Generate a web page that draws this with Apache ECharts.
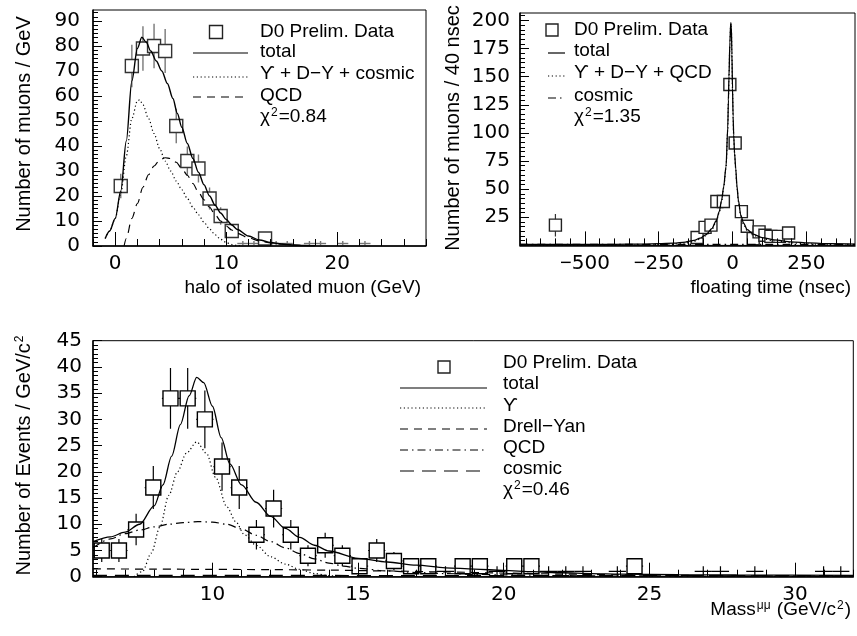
<!DOCTYPE html>
<html><head><meta charset="utf-8">
<script src="https://cdn.jsdelivr.net/npm/echarts@6/dist/echarts.min.js"></script>
<style>html,body{margin:0;padding:0;background:#fff}#c{width:857px;height:636px}</style>
</head><body><div id="c"></div>
<script>
// ===== Top-left: halo of isolated muon =====
const tlSqX  = [0.5, 1.5, 2.5, 3.5, 4.5, 5.5, 6.5, 7.5, 8.5, 9.5, 10.5, 13.5];
const tlSqY  = [24, 72, 79, 80, 78, 48, 34, 31, 19, 12, 6, 3];
const tlSqErr = [4.9, 8.5, 8.9, 8.9, 8.8, 6.9, 5.8, 5.6, 4.4, 3.5, 2.4, 1.7];
const tlCrX  = [11.5, 12.5, 14.5, 15.5, 17.5, 18.5, 20.5, 22.5];
const tlCrY  = [1, 1, 1, 1, 1, 1, 1, 1];
const tlTotX = [-0.9,-0.5,0,0.5,1,1.5,2,2.4,2.8,3.2,3.7,4.2,4.7,5.2,5.6,6,6.5,7,7.5,8,8.5,9,9.5,10,10.5,11,12,13,14,15,16,17,18];
const tlTotY = [3,6,11,22,42,66,79,83.5,81.5,78,74,70,65,59,53,47.5,41,35,29.5,24.5,20,16.3,13.2,10.6,8.4,6.6,4,2.4,1.4,0.8,0.4,0.2,0.1];
const tlUpsX = [-0.9,-0.5,0,0.5,1,1.5,2,2.2,2.5,3,3.5,4,4.5,5,5.5,6,6.5,7,7.5,8,8.5,9,9.5,10,10.5,11,11.5];
const tlUpsY = [3,6,11,21,36,51,58,58.5,56.5,51,45,39,34,30,26,22.5,19,15.5,12.5,9.5,6.8,4.5,2.7,1.4,0.6,0.2,0];
const tlQcdX = [0.8,1,1.5,2,2.5,3,3.5,4,4.5,5,5.5,6,6.5,7,7.5,8,8.5,9,9.5,10,10.5,11,12,13,14,15,16,17];
const tlQcdY = [0,3,11,17,23.5,28.5,32,34.4,35.3,35,33.5,31,28.3,25,21.5,18.5,15.5,12.5,10,8,6.4,5.1,3.3,2,1.2,0.7,0.35,0.15];
const tlXLabels = [0, 10, 20];
const tlYLabels = [0, 10, 20, 30, 40, 50, 60, 70, 80, 90];

// ===== Top-right: floating time =====
const trSqX  = [-600, -120, -93, -73, -53, -31, -9, 9, 30, 50, 70, 90, 110, 130, 155, 190];
const trSqY  = [18, 7, 16, 18, 39, 39, 143, 91, 30, 17, 6, 12, 9, 8, 8, 11];
const trSqErr = [10, 0, 0, 0, 0, 0, 0, 0, 0, 0, 0, 0, 0, 0, 0, 0];
const trTotX = [-720,-400,-300,-250,-200,-160,-130,-110,-90,-70,-55,-45,-37,-30,-22,-16,-14,-12,-9,-6,-4,-2,0,2,4,7,11,15,20,28,37,50,70,100,140,200,260,330,415];
const trTotY = [0.9,1.0,1.2,1.5,2.1,3,4.5,6.5,9.5,15,22,30,40,52,70,105,129,150,180,198,195,170,140,115,98,82,68,53,40,27,20,14,10,7,5,3.2,2.2,1.5,1.1];
const trSigY = [0,0.1,0.3,0.6,1.2,2.1,3.6,5.6,8.6,14.1,21.1,29.1,39.1,51.1,69.1,104,128,149,179,197,194,169,139,114,97,81,67,52,39,26,19,13,9.1,6.1,4.1,2.3,1.3,0.6,0.2];
const trCosX = [-720, 415];
const trCosY = [0.9, 0.9];
const trXLabels = [-500, -250, 0, 250];
const trYLabels = [25, 50, 75, 100, 125, 150, 175, 200];

// ===== Bottom: di-muon mass =====
const bSqX  = [6.2,6.79,7.38,7.97,8.56,9.15,9.74,10.33,10.92,11.51,12.1,12.69,13.28,13.87,14.46,15.05,15.64,16.23,16.82,17.41,18.59,19.18,20.36,20.95,24.49];
const bSqY  = [5,5,9,17,34,34,30,21,17,8,13,8,4,6,4,2,5,3,2,2,2,2,2,2,2];
const bSqErr = [2.2,2.2,3,4.1,5.8,5.8,5.5,4.6,4.1,2.8,3.6,2.8,2,2.4,2,1.4,2.2,1.7,1.4,1.4,1.4,1.4,1.4,1.4,1.4];
const bCrX  = [18.0,19.77,21.54,22.13,22.72,23.9,26.85,27.44,28.62,30.98,31.57];
const bCrY  = [1,1,1,1,1,1,1,1,1,1,1];
const bTotX = [5.9,6.5,7,7.5,8,8.3,8.6,8.9,9.2,9.46,9.7,10,10.3,10.6,11,11.5,12,12.5,13,13.5,14,15,16,17,18,19,20,21,22,23,24,26,28,32];
const bTotY = [6.7,7.6,8.5,10,13.5,17.5,23,29,34.5,38,37,32.5,26.5,21.5,17.5,14.2,11.5,9.2,7.5,6,4.9,3.5,2.8,2.2,1.7,1.45,1.2,0.95,0.75,0.6,0.5,0.4,0.32,0.25];
const bUpsX = [7.3,7.6,7.9,8.2,8.5,8.8,9.1,9.46,9.8,10.1,10.5,10.8,11.1,11.5,12,12.5,13,13.5,14,14.5];
const bUpsY = [0,1,4.5,9.5,15.5,20,23.5,25.7,23.5,19,13.3,10.5,8,6,3.8,2.4,1.4,0.6,0.2,0];
const bDyX  = [5.9,8,10,12,14,16,18,20,22,24,26,28,32];
const bDyY  = [1.5,1.45,1.4,1.35,1.25,1.1,0.9,0.7,0.5,0.35,0.25,0.15,0.08];
const bQcdX = [5.9,6.5,7,7.5,8,8.5,9,9.5,10,10.5,11,11.5,12,12.5,13,13.5,14,14.5,15,16,17,18,19,20,22,24,28,32];
const bQcdY = [5.5,7.2,8.2,8.9,9.5,10,10.3,10.5,10.4,10,9.1,7.9,6.7,5.5,4.4,3.4,2.6,2,1.6,1.1,0.8,0.6,0.45,0.35,0.2,0.1,0.05,0.02];
const bCosX = [5.9, 32];
const bCosY = [0.25, 0.2];
const bXLabels = [10, 15, 20, 25, 30];
const bYLabels = [0, 5, 10, 15, 20, 25, 30, 35, 40, 45];

// ===== helpers =====
const NUM = 'DejaVu Sans', TXT = 'Liberation Sans';
const zip = (xs, ys) => xs.map((x, i) => [x, ys[i]]);
function steps(a, b, s) { const r = []; for (let v = a; v <= b + 1e-9; v += s) r.push(+v.toFixed(4)); return r; }
const negFmt = v => v < 0 ? '{m|\u2212}' + (-v) : String(v);

function axes(dim, gi, min, max, labels, majors, minors, majLen, minLen, margin) {
  const base = { type: 'value', gridIndex: gi, min, max, splitLine: { show: false }, z: 5 };
  const major = Object.assign({}, base, {
    axisLine: { show: true, onZero: false, lineStyle: { color: '#000', width: 1.5 } },
    axisTick: { show: true, inside: true, length: majLen, customValues: majors, lineStyle: { color: '#000', width: 1 } },
    axisLabel: { show: true, customValues: labels, margin, color: '#000', fontSize: 20, fontFamily: NUM,
      formatter: negFmt, rich: { m: { fontFamily: TXT, fontSize: 20, color: '#000' } } }
  });
  const minor = Object.assign({}, base, {
    axisLine: { show: false, onZero: false },
    axisTick: { show: true, inside: true, length: minLen, customValues: minors, lineStyle: { color: '#000', width: 1 } },
    axisLabel: { show: false }
  });
  if (dim === 'x') { major.position = minor.position = 'bottom'; }
  else { major.position = minor.position = 'left'; }
  return [major, minor];
}

function errSeries(xi, yi, pts, color, lw) {
  return {
    type: 'custom', xAxisIndex: xi, yAxisIndex: yi, clip: true, silent: true, z: 2,
    data: pts,
    renderItem: (params, api) => {
      const x = api.value(0), y = api.value(1), dx = api.value(2), dy = api.value(3);
      const ch = [];
      if (dy > 0) {
        const a = api.coord([x, y + dy]), b = api.coord([x, y - dy]);
        ch.push({ type: 'line', shape: { x1: a[0], y1: a[1], x2: b[0], y2: b[1] }, style: { stroke: color, lineWidth: lw } });
      }
      if (dx > 0) {
        const a = api.coord([x - dx, y]), b = api.coord([x + dx, y]);
        ch.push({ type: 'line', shape: { x1: a[0], y1: a[1], x2: b[0], y2: b[1] }, style: { stroke: color, lineWidth: lw } });
      }
      return { type: 'group', children: ch };
    }
  };
}
function sqSeries(xi, yi, xs, ys, size, color) {
  return { type: 'scatter', xAxisIndex: xi, yAxisIndex: yi, symbol: 'rect', symbolSize: size, silent: true, z: 3,
    itemStyle: { color: '#fff', borderColor: color, borderWidth: 1.4, opacity: 1 }, data: zip(xs, ys) };
}
function lineSeries(xi, yi, xs, ys, type, w) {
  return { type: 'line', xAxisIndex: xi, yAxisIndex: yi, showSymbol: false, symbol: 'none', smooth: 0.3, smoothMonotone: 'x',
    clip: true, silent: true, z: 4, lineStyle: { color: '#000', width: w || 1.2, type: type }, data: zip(xs, ys) };
}

const tlErr = tlSqX.map((x, i) => [x, tlSqY[i], 0.5, tlSqErr[i]]).concat(tlCrX.map((x, i) => [x, tlCrY[i], 0.5, 1]));
const trErr = trSqX.map((x, i) => [x, trSqY[i], 0, trSqErr[i]]);
const bErr  = bSqX.map((x, i) => [x, bSqY[i], 0.295, bSqErr[i]]).concat(bCrX.map((x, i) => [x, bCrY[i], 0.295, 1]));

const tlX = axes('x', 0, -2, 28, tlXLabels, tlXLabels, steps(-2, 28, 2), 14, 7, 8);
const trX = axes('x', 1, -720, 415, trXLabels, trXLabels, steps(-700, 400, 50), 14, 7, 8);
const bX  = axes('x', 2, 5.9, 32, bXLabels, bXLabels, steps(6, 32, 1), 14, 7, 8);
const tlY = axes('y', 0, 0, 94.4, tlYLabels, tlYLabels, steps(0, 94, 10 / 6), 9, 5, 13);
const trY = axes('y', 1, 0, 206.6, trYLabels, [0].concat(trYLabels), steps(0, 206, 25 / 6), 9, 5, 10);
const bY  = axes('y', 2, 0, 45, bYLabels, bYLabels, steps(0, 45, 5 / 6), 9, 5, 11);

// legend / titles (graphic)
const T = (x, y, text, align, size, extra) => Object.assign({ type: 'text', x, y, z: 10, silent: true,
  style: { text, fill: '#000', font: (size || 19) + 'px "' + TXT + '"', textAlign: align || 'left', textVerticalAlign: 'middle',
    rich: { s: { fontSize: 12, fontFamily: TXT, fill: '#000', verticalAlign: 'top', padding: [0, 1, 8, 1] },
            n: { fontSize: size || 19, fontFamily: TXT, fill: '#000' } } } }, extra || {});
const L = (x1, y1, x2, y2, dash, w) => ({ type: 'line', z: 10, silent: true, shape: { x1, y1, x2, y2 },
  style: { stroke: '#000', lineWidth: w || 1.2, lineDash: dash || null } });
const S = (cx, cy, s) => ({ type: 'rect', z: 10, silent: true, shape: { x: cx - s / 2, y: cy - s / 2, width: s, height: s },
  style: { fill: '#fff', stroke: '#222', lineWidth: 1.4 } });
const DOT = [1.2, 2.6], DASH = [8, 6], DASHDOT = [8, 4, 1.5, 4], LONG = [14, 8];

const graphic = [
  // top-left legend
  S(216, 32, 13), T(260, 32, 'D0 Prelim. Data'),
  L(193, 53, 248, 53), T(260, 52, 'total'),
  L(193, 77, 248, 77, DOT), T(260, 74, '\u03d2 + D\u2212Y + cosmic'),
  L(193, 97, 248, 97, DASH), T(260, 96, 'QCD'),
  T(260, 117, '\u03c7{s|2}=0.84'),
  // top-right legend
  S(552, 30, 12), T(574, 30, 'D0 Prelim. Data'),
  L(548, 53, 565, 53), T(574, 51, 'total'),
  L(548, 76, 565, 76, DOT), T(574, 73, '\u03d2 + D\u2212Y + QCD'),
  L(548, 98, 565, 98, DASHDOT), T(574, 96, 'cosmic'),
  T(574, 117, '\u03c7{s|2}=1.35'),
  // bottom legend
  S(444, 367, 12), T(503, 363, 'D0 Prelim. Data'),
  L(400, 388, 487, 388), T(503, 384, 'total'),
  L(400, 408, 487, 408, DOT), T(503, 406, '\u03d2'),
  L(400, 429, 487, 429, DASH), T(503, 427, 'Drell\u2212Yan'),
  L(400, 450, 487, 450, DASHDOT), T(503, 448, 'QCD'),
  L(400, 471, 487, 471, LONG), T(503, 469, 'cosmic'),
  T(503, 490, '\u03c7{s|2}=0.46'),
  // axis titles
  T(24, 124, 'Number of muons / GeV', 'center', 20, { rotation: Math.PI / 2 }),
  T(421, 288, 'halo of isolated muon (GeV)', 'right', 19),
  T(453, 128, 'Number of muons / 40 nsec', 'center', 20, { rotation: Math.PI / 2 }),
  T(851, 288, 'floating time (nsec)', 'right', 19),
  T(24, 455, 'Number of Events / GeV/c{s|2}', 'center', 20, { rotation: Math.PI / 2 }),
  T(851, 610, 'Mass{s|\u03bc\u03bc} (GeV/c{s|2})', 'right', 19)
];

const chart = echarts.init(document.getElementById('c'), null, { renderer: 'canvas' });
chart.setOption({
  animation: false,
  backgroundColor: '#fff',
  grid: [
    { left: 93, top: 10, width: 333, height: 236, show: true, borderColor: '#000', borderWidth: 1, backgroundColor: 'transparent' },
    { left: 520, top: 13, width: 335, height: 232.4, show: true, borderColor: '#000', borderWidth: 1, backgroundColor: 'transparent' },
    { left: 93, top: 340.7, width: 760.3, height: 236, show: true, borderColor: '#000', borderWidth: 1, backgroundColor: 'transparent' }
  ],
  xAxis: [].concat(tlX, trX, bX),
  yAxis: [].concat(tlY, trY, bY),
  graphic: graphic,
  series: [
    errSeries(0, 0, tlErr, '#777', 1.4),
    sqSeries(0, 0, tlSqX, tlSqY, 13, '#333'),
    lineSeries(0, 0, tlTotX, tlTotY, 'solid', 1.4),
    lineSeries(0, 0, tlUpsX, tlUpsY, DOT, 1.2),
    lineSeries(0, 0, tlQcdX, tlQcdY, DASH, 1.2),

    errSeries(2, 2, trErr, '#333', 1.2),
    sqSeries(2, 2, trSqX, trSqY, 12, '#222'),
    lineSeries(2, 2, trCosX, trCosY, DASHDOT, 1.2),
    lineSeries(2, 2, trTotX, trSigY, DOT, 1.2),
    lineSeries(2, 2, trTotX, trTotY, 'solid', 1.3),

    errSeries(4, 4, bErr, '#000', 1.2),
    sqSeries(4, 4, bSqX, bSqY, 15, '#000'),
    lineSeries(4, 4, bCosX, bCosY, LONG, 1.2),
    lineSeries(4, 4, bDyX, bDyY, DASH, 1.2),
    lineSeries(4, 4, bQcdX, bQcdY, DASHDOT, 1.2),
    lineSeries(4, 4, bUpsX, bUpsY, DOT, 1.2),
    lineSeries(4, 4, bTotX, bTotY, 'solid', 1.3)
  ]
});
</script></body></html>
